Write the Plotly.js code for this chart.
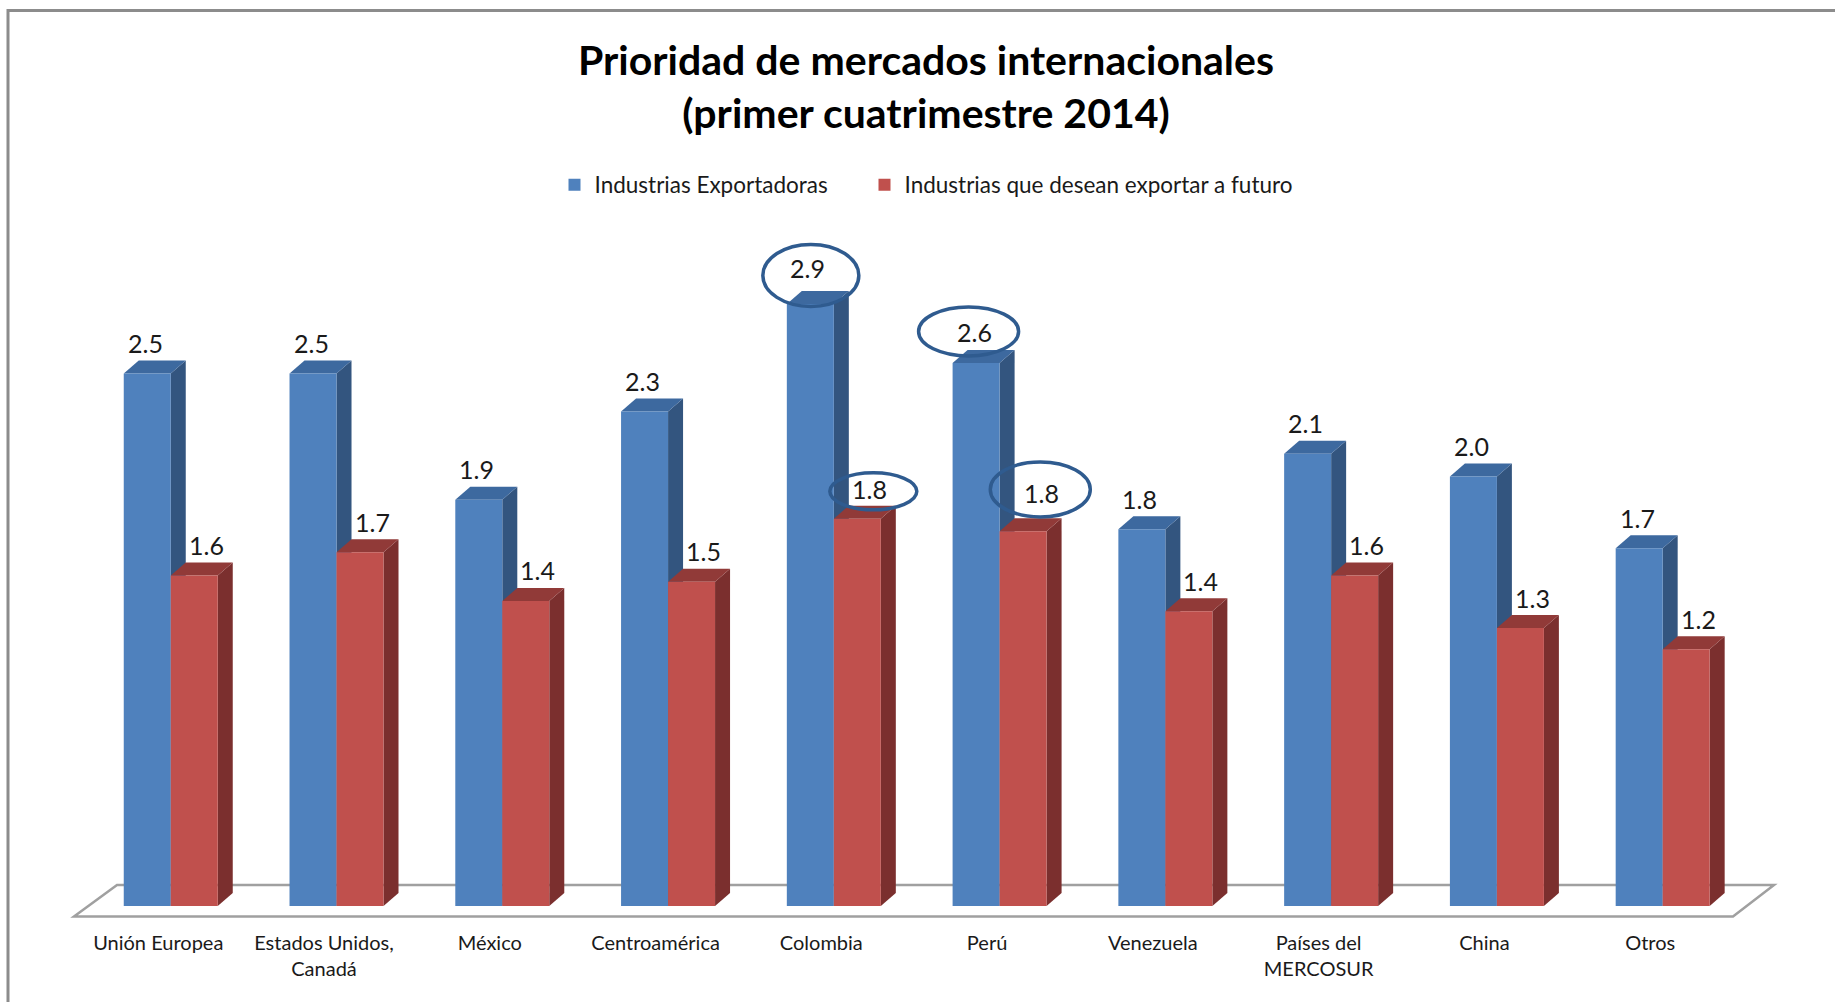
<!DOCTYPE html>
<html>
<head>
<meta charset="utf-8">
<script src="https://cdn.plot.ly/plotly-3.0.1.min.js"></script>
<style>html,body{margin:0;padding:0;background:#fff;}#chart{width:1835px;height:1002px;}</style>
</head>
<body>
<div id="chart"></div>
<script>
// ---------- data ----------
const categories = ['Unión Europea','Estados Unidos, Canadá','México','Centroamérica','Colombia','Perú','Venezuela','Países del MERCOSUR','China','Otros'];
const tickLabels = ['Unión Europea','Estados Unidos,<br>Canadá','México','Centroamérica','Colombia','Perú','Venezuela','Países del<br>MERCOSUR','China','Otros'];
const exportadoras = [2.53, 2.53, 1.93, 2.349, 2.86, 2.58, 1.79, 2.149, 2.04, 1.70];
const futuro = [1.57, 1.68, 1.449, 1.54, 1.84, 1.78, 1.40, 1.57, 1.32, 1.22];
const seriesNames = ['Industrias Exportadoras', 'Industrias que desean exportar a futuro'];
const titleText = 'Prioridad de mercados internacionales<br>(primer cuatrimestre 2014)';
// points circled in the original (category, series index)
const highlighted = [['Colombia', 0], ['Colombia', 1], ['Perú', 0], ['Perú', 1]];

// ---------- style / layout ----------
const W = 1835, H = 1002;
const M = {l: 63, r: 48, t: 216, b: 75};
const xRange = [-0.65, 9.75], yRange = [-0.1, 3.278];
const pxPerCat = (W - M.l - M.r) / (xRange[1] - xRange[0]);
const pxPerUnit = (H - M.t - M.b) / (yRange[1] - yRange[0]);
const BAR_W = 0.2835;
const DX = 15 / pxPerCat, DY = 13 / pxPerUnit;
const LABEL_SHIFT_PX = -12.5;  // category labels sit left of the group centre
const FONT = 'Lato, "Open Sans", sans-serif';
const colors = {
  front: ['#4f81bd', '#c0504d'],
  top:   ['#3d699f', '#913a38'],
  side:  ['#33557f', '#7b2f2e']
};
// default value-label offset (px from bar front-top centre) per series
const labelShift = [{x: -2, y: 30.5}, {x: 12, y: 30.5}];
// per highlighted point: label offset and ellipse centre/size (px from bar front-top centre)
const highlightStyle = [
  {lx: -3, ly: 35.5, ex: 0.5, ey: 28.5, w: 96, h: 62},
  {lx: 12, ly: 29.5, ex: 16, ey: 27.3, w: 87, h: 37},
  {lx: -1.5, ly: 30.5, ex: -7.5, ey: 31.5, w: 100, h: 49},
  {lx: 18, ly: 38, ex: 17.2, ey: 41.9, w: 100, h: 55}
];

const px2x = p => (p - M.l) / pxPerCat + xRange[0];
const py2y = p => yRange[1] - (p - M.t) / pxPerUnit;
const px2paper = p => (p - M.l) / (W - M.l - M.r);
const py2paper = p => (H - M.b - p) / (H - M.t - M.b);

const series = [exportadoras, futuro];
const legendWidths = [265, 420];

const traces = series.map((vals, s) => ({
  type: 'bar',
  name: seriesNames[s],
  x: categories,
  y: vals,
  legendwidth: legendWidths[s],
  marker: {color: colors.front[s], line: {width: 0}},
  hoverinfo: 'x+y'
}));

const shapes = [];
// gray page border
shapes.push({type: 'rect', xref: 'paper', yref: 'paper', layer: 'above',
  x0: px2paper(8), x1: px2paper(1850), y0: py2paper(10.5), y1: py2paper(1020),
  line: {color: '#8c8c8c', width: 3}, fillcolor: 'rgba(0,0,0,0)'});
// floor
const fl = {fy: py2y(916.5), by: py2y(885), fl: px2x(74), fr: px2x(1733), bl: px2x(117), br: px2x(1774)};
shapes.push({type: 'path', xref: 'x', yref: 'y', layer: 'below',
  path: `M ${fl.fl},${fl.fy} L ${fl.fr},${fl.fy} L ${fl.br},${fl.by} L ${fl.bl},${fl.by} Z`,
  line: {color: '#a0a0a0', width: 2.5}, fillcolor: 'rgba(255,255,255,0)'});
// 3D faces
series.forEach((vals, s) => {
  vals.forEach((v, i) => {
    const xl = s === 0 ? i - BAR_W : i;
    const xr = xl + BAR_W;
    shapes.push({type: 'path', xref: 'x', yref: 'y', layer: 'below',
      path: `M ${xr},0 L ${xr + DX},${DY} L ${xr + DX},${v + DY} L ${xr},${v} Z`,
      fillcolor: colors.side[s], line: {width: 0}});
    shapes.push({type: 'path', xref: 'x', yref: 'y', layer: 'below',
      path: `M ${xl},${v} L ${xl + DX},${v + DY} L ${xr + DX},${v + DY} L ${xr},${v} Z`,
      fillcolor: colors.top[s], line: {width: 0}});
  });
});

// value labels
const annotations = [];
const labelIndex = {};
series.forEach((vals, s) => {
  vals.forEach((v, i) => {
    labelIndex[s + '_' + i] = annotations.length;
    annotations.push({
      x: s === 0 ? i - BAR_W / 2 : i + BAR_W / 2, y: v, xref: 'x', yref: 'y',
      text: v.toFixed(1), showarrow: false, xshift: labelShift[s].x, yshift: labelShift[s].y,
      font: {family: FONT, size: 25, color: '#1a1a1a'}
    });
  });
});

// ellipses around highlighted values
highlighted.forEach(([cat, s], k) => {
  const i = categories.indexOf(cat);
  const v = series[s][i];
  const xc = s === 0 ? i - BAR_W / 2 : i + BAR_W / 2;
  const st = highlightStyle[k];
  const a = annotations[labelIndex[s + '_' + i]];
  a.xshift = st.lx; a.yshift = st.ly;
  shapes.push({type: 'circle', xref: 'x', yref: 'y', layer: 'above',
    xsizemode: 'pixel', ysizemode: 'pixel', xanchor: xc, yanchor: v,
    x0: st.ex - st.w / 2, x1: st.ex + st.w / 2, y0: st.ey - st.h / 2, y1: st.ey + st.h / 2,
    line: {color: '#2f5b8f', width: 3.5}, fillcolor: 'rgba(0,0,0,0)'});
});

const layout = {
  width: W, height: H,
  margin: {l: M.l, r: M.r, t: M.t, b: M.b, autoexpand: false},
  paper_bgcolor: '#fff', plot_bgcolor: 'rgba(0,0,0,0)',
  title: {text: titleText, x: 926 / W, xref: 'container', xanchor: 'center',
    y: 1 - 74.5 / H, yref: 'container', yanchor: 'middle',
    font: {family: FONT, size: 41, weight: 700, color: '#000'}},
  barmode: 'group', bargap: 1 - 2 * BAR_W, bargroupgap: 0,
  showlegend: true,
  legend: {orientation: 'h', xref: 'container', yref: 'container', x: 554.5 / W, xanchor: 'left',
    y: 1 - 185 / H, yanchor: 'middle', font: {family: FONT, size: 22.5, color: '#1a1a1a'},
    itemwidth: 30, bgcolor: 'rgba(0,0,0,0)', traceorder: 'normal'},
  xaxis: {type: 'category', range: xRange, autorange: false, showgrid: false, zeroline: false,
    showline: false, ticks: '', tickmode: 'array',
    tickvals: categories.map((c, i) => i + LABEL_SHIFT_PX / pxPerCat), ticktext: tickLabels,
    ticklabelstandoff: 2,
    tickfont: {family: FONT, size: 20, color: '#1a1a1a'}, fixedrange: true},
  yaxis: {range: yRange, autorange: false, showgrid: false, zeroline: false, showline: false,
    showticklabels: false, ticks: '', fixedrange: true},
  shapes: shapes,
  annotations: annotations
};

Plotly.newPlot('chart', traces, layout, {displayModeBar: false, staticPlot: true});
</script>
</body>
</html>
